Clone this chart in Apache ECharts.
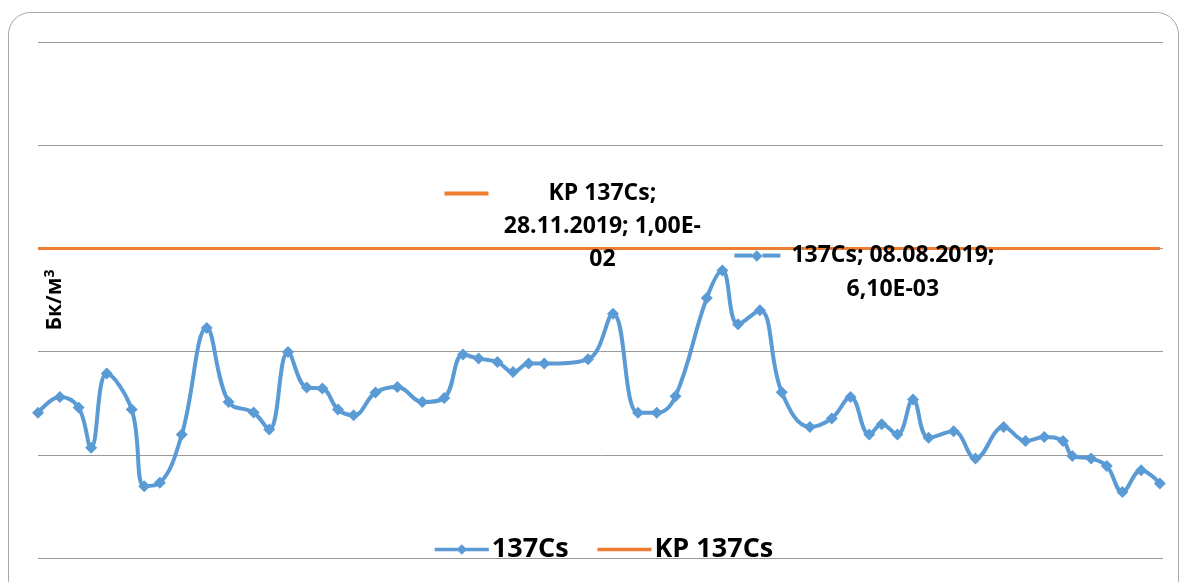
<!DOCTYPE html>
<html>
<head>
<meta charset="utf-8">
<script src="https://cdn.jsdelivr.net/npm/echarts@6/dist/echarts.min.js"></script>
<style>
  html, body { margin: 0; padding: 0; background: #fff; }
  #chart { width: 1181px; height: 582px; }
</style>
</head>
<body>
<div id="chart"></div>
<script>
// даты отбора проб
const dates = [
  '2019-01-01', '2019-01-08', '2019-01-14', '2019-01-18', '2019-01-23', '2019-01-31',
  '2019-02-04', '2019-02-09', '2019-02-16', '2019-02-24', '2019-03-03', '2019-03-11',
  '2019-03-16', '2019-03-22', '2019-03-28', '2019-04-02', '2019-04-07', '2019-04-12',
  '2019-04-19', '2019-04-26', '2019-05-04', '2019-05-11', '2019-05-17', '2019-05-22',
  '2019-05-28', '2019-06-02', '2019-06-07', '2019-06-12', '2019-06-26', '2019-07-04',
  '2019-07-12', '2019-07-18', '2019-07-24', '2019-08-03', '2019-08-08', '2019-08-13',
  '2019-08-20', '2019-08-27', '2019-09-05', '2019-09-12', '2019-09-18', '2019-09-24',
  '2019-09-28', '2019-10-03', '2019-10-08', '2019-10-13', '2019-10-21', '2019-10-28',
  '2019-11-06', '2019-11-13', '2019-11-19', '2019-11-25', '2019-11-28', '2019-12-04',
  '2019-12-09', '2019-12-14', '2019-12-20', '2019-12-26'
]
// 137Cs, Бк/м3
const cs137 = [
  2.55e-4, 3.63e-4, 2.87e-4, 1.17e-4, 6.12e-4, 2.74e-4,
  4.97e-5, 5.35e-5, 1.57e-4, 1.69e-3, 3.25e-4, 2.57e-4,
  1.76e-4, 9.90e-4, 4.48e-4, 4.38e-4, 2.74e-4, 2.42e-4,
  4.01e-4, 4.54e-4, 3.25e-4, 3.56e-4, 9.35e-4, 8.55e-4,
  7.93e-4, 6.35e-4, 7.65e-4, 7.65e-4, 8.42e-4, 2.33e-3,
  2.55e-4, 2.55e-4, 3.69e-4, 3.30e-3, 6.10e-3, 1.84e-3,
  2.51e-3, 4.04e-4, 1.86e-4, 2.25e-4, 3.63e-4, 1.57e-4,
  1.98e-4, 1.57e-4, 3.43e-4, 1.46e-4, 1.69e-4, 9.20e-5,
  1.86e-4, 1.36e-4, 1.49e-4, 1.36e-4, 9.76e-5, 9.20e-5,
  7.81e-5, 4.37e-5, 7.10e-5, 5.27e-5
]
// контрольный уровень
const kpDates = ['2019-01-01', '2019-11-28', '2019-12-26']
const kpValues = [1.00e-2, 1.00e-2, 1.00e-2]

// точки с подписями
const csLabelDate = '2019-08-08'
const kpLabelDate = '2019-11-28'

const BLUE = '#5b9bd5'
const ORANGE = '#ed7d31'
const FONT = 'Open Sans'

// 6.1e-3 -> 6,10E-03
function fmtExp(v) {
  const [m, e] = v.toExponential(2).split('e')
  const n = Math.abs(parseInt(e, 10))
  return m.replace('.', ',') + 'E' + (e[0] === '-' ? '-' : '+') + (n < 10 ? '0' + n : n)
}
function fmtDate(s) {
  const p = s.split('-')
  return p[2] + '.' + p[1] + '.' + p[0]
}

const textRich = { fontFamily: FONT, fontWeight: 'bold', fontSize: 23, color: '#000' }

const csData = dates.map((d, i) => {
  if (d !== csLabelDate) return [d, cs137[i]]
  return {
    value: [d, cs137[i]],
    label: {
      show: true,
      position: 'inside',
      offset: [142, 2],
      align: 'center',
      verticalAlign: 'middle',
      lineHeight: 34,
      formatter: '{a|}{d|◆}{a|}{g|}{t|137Cs; ' + fmtDate(d) + ';}\n{sp|}{t|' + fmtExp(cs137[i]) + '}',
      rich: {
        a: { width: 18, height: 4, backgroundColor: BLUE },
        d: { color: BLUE, fontSize: 15, width: 10, align: 'center' },
        g: { width: 11 },
        sp: { width: 57 },
        t: textRich
      }
    }
  }
})

const kpData = kpDates.map((d, i) => {
  if (d !== kpLabelDate) return [d, kpValues[i]]
  const e = fmtExp(kpValues[i])
  return {
    value: [d, kpValues[i]],
    symbol: 'circle',
    symbolSize: 0.1,
    label: {
      show: true,
      position: 'inside',
      offset: [-470, -22],
      align: 'center',
      verticalAlign: 'middle',
      lineHeight: 33,
      // ключ легенды слева, перенос как в исходной подписи
      formatter: '{k|}{g|}{t|KP 137Cs;}{r|}\n{t|' + fmtDate(d) + '; ' + e.slice(0, -2) + '}\n{t|' + e.slice(-2) + '}',
      rich: {
        k: { width: 44, height: 4, backgroundColor: ORANGE },
        g: { width: 60 },
        r: { width: 104 },
        t: textRich
      }
    }
  }
})

const chart = echarts.init(document.getElementById('chart'))
const option = {
  animation: false,
  grid: { left: 38, right: 18, top: 42, bottom: 24, containLabel: false },
  xAxis: {
    type: 'time',
    min: '2019-01-01',
    max: '2019-12-27',
    axisLine: { show: false },
    axisTick: { show: false },
    axisLabel: { show: false },
    splitLine: { show: false }
  },
  yAxis: {
    type: 'log',
    logBase: 10,
    min: 1e-5,
    max: 1,
    name: 'Бк/м{sup|3}',
    nameLocation: 'middle',
    nameGap: -29,
    nameRotate: 90,
    nameTextStyle: {
      fontFamily: FONT,
      fontWeight: 'bold',
      fontSize: 21,
      color: '#000',
      rich: {
        sup: { fontFamily: FONT, fontWeight: 'bold', fontSize: 14, color: '#000', verticalAlign: 'top', padding: [0, 0, 10, 0] }
      }
    },
    axisLine: { show: false },
    axisTick: { show: false },
    axisLabel: { show: false },
    splitLine: { lineStyle: { color: '#999', width: 1 } }
  },
  legend: {
    left: 428,
    top: 531,
    itemWidth: 54,
    itemHeight: 13,
    itemGap: 27,
    textStyle: { fontFamily: FONT, fontWeight: 'bold', fontSize: 27, color: '#000', padding: [0, 0, 0, -2] },
    data: [
      { name: '137Cs', lineStyle: { width: 3.5 } },
      { name: 'KP 137Cs', itemStyle: { opacity: 0 }, lineStyle: { width: 3.5 } }
    ]
  },
  series: [
    {
      name: 'KP 137Cs',
      type: 'line',
      data: kpData,
      symbol: 'none',
      itemStyle: { color: ORANGE },
      lineStyle: { color: ORANGE, width: 3 },
      z: 2
    },
    {
      name: '137Cs',
      type: 'line',
      data: csData,
      smooth: 0.4,
      symbol: 'diamond',
      symbolSize: 12,
      itemStyle: { color: BLUE },
      lineStyle: { color: BLUE, width: 4 },
      z: 3
    }
  ],
  graphic: [
    {
      type: 'rect',
      silent: true,
      shape: { x: 8.5, y: 12.5, width: 1170, height: 590, r: 22 },
      style: { fill: 'none', stroke: '#a6a6a6', lineWidth: 1 }
    }
  ]
}
chart.setOption(option)
</script>
</body>
</html>
